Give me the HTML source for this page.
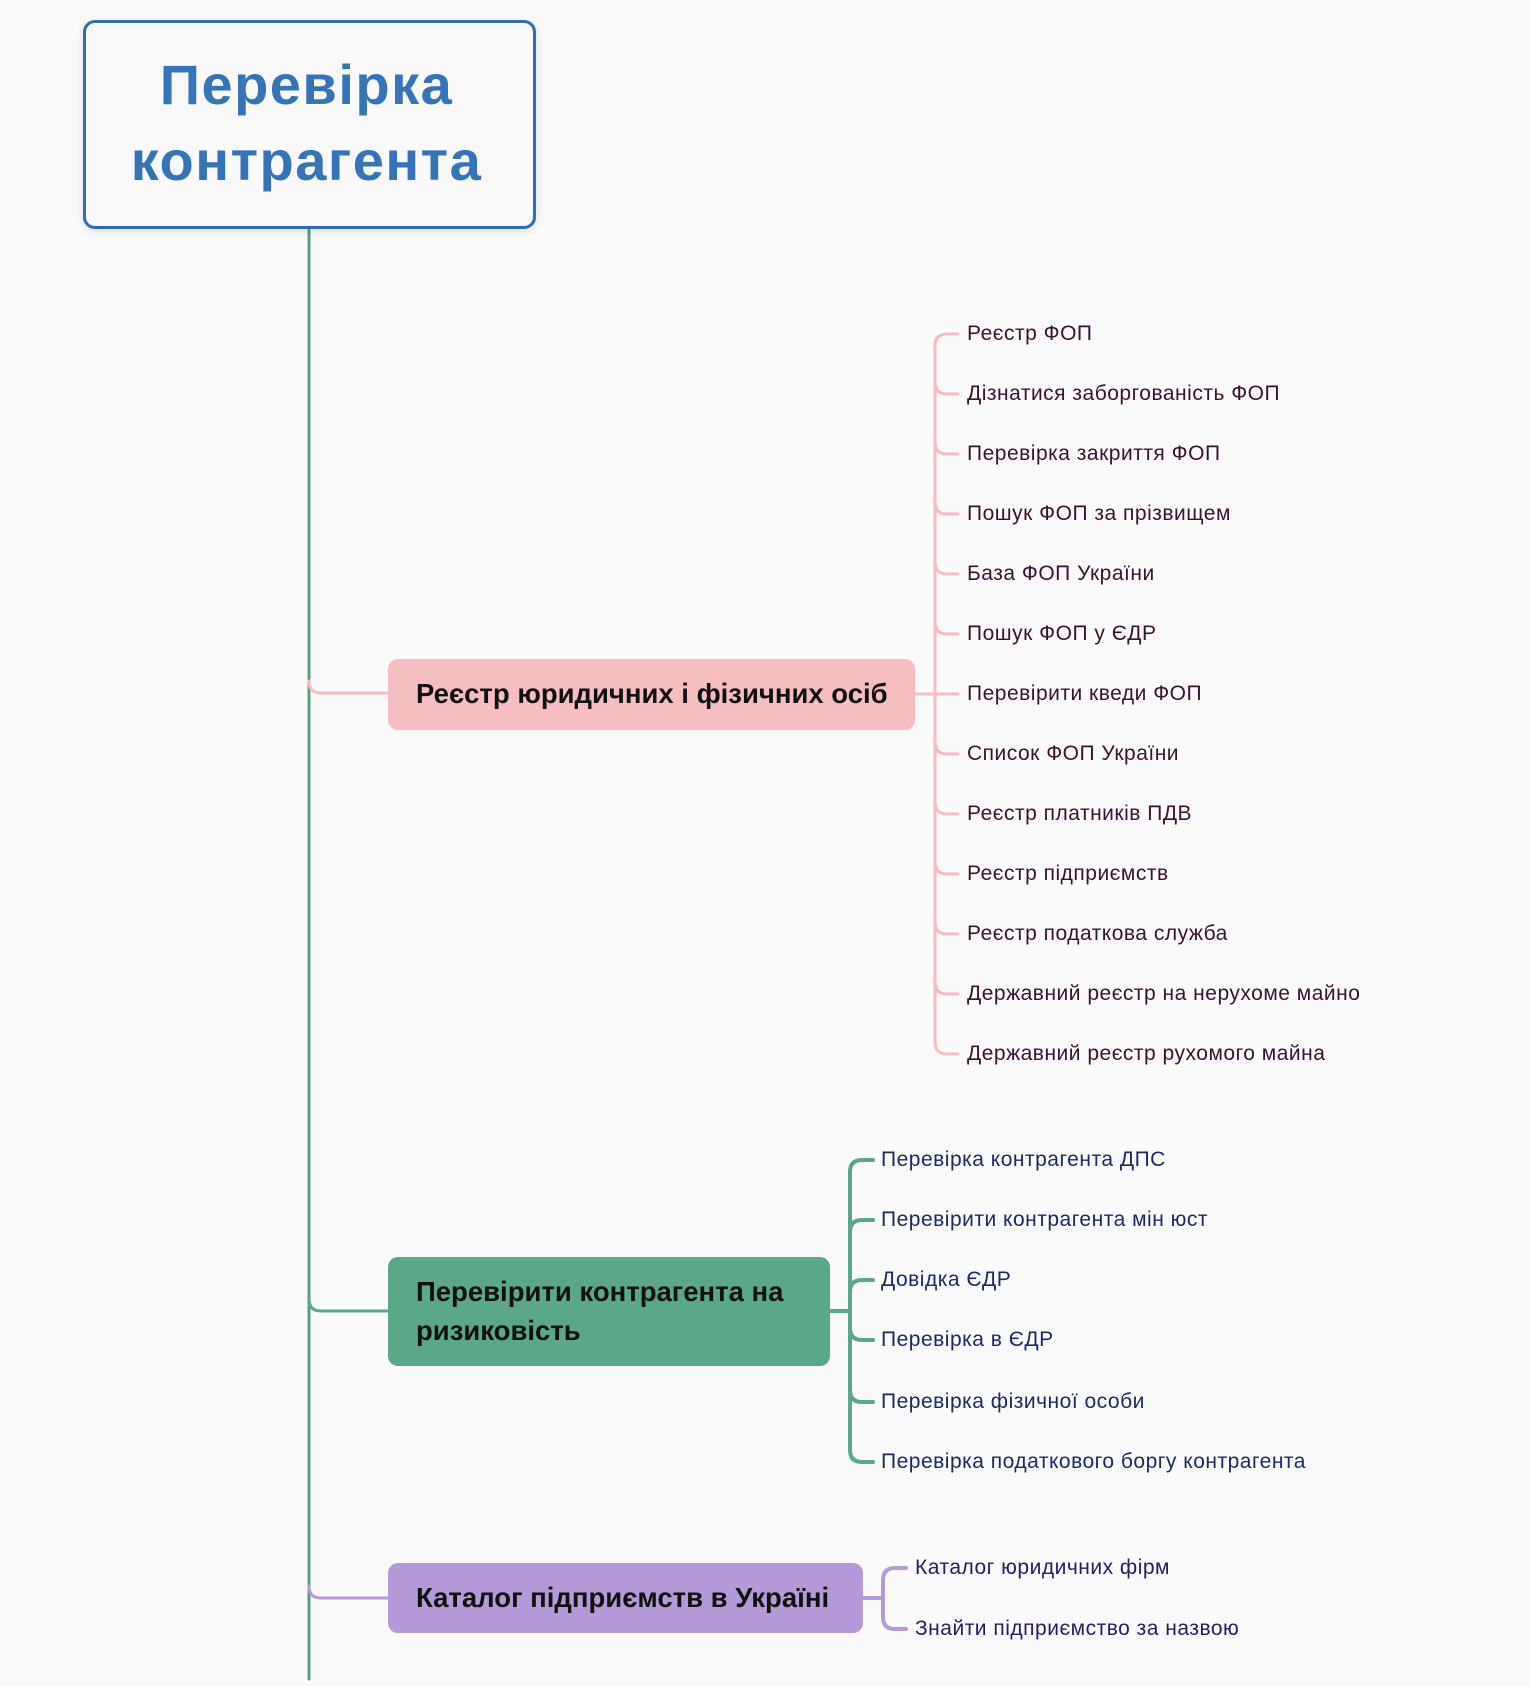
<!DOCTYPE html>
<html><head><meta charset="utf-8"><style>
body{margin:0;width:1530px;height:1686px;background:#fafafa;position:relative;overflow:hidden;font-family:"Liberation Sans",sans-serif}
.a{position:absolute;white-space:nowrap}
.root{left:83px;top:20px;width:447px;height:203px;border:3px solid #2f6db4;border-radius:12px;background:#f9f9fa;box-shadow:0 2px 8px rgba(0,0,0,.12)}
.rt{left:80px;width:453px;text-align:center;color:#3673b8;font-weight:bold;font-size:56px;letter-spacing:1.5px;line-height:60px}
.box{border-radius:10px}
.bt{font-weight:bold;font-size:27.5px;color:#111;line-height:38px}
.p{color:#3a1232;font-size:21px;letter-spacing:0.5px;line-height:24px}
.g{color:#1c2a6a;font-size:21px;letter-spacing:0.5px;line-height:24px}
.v{color:#2a1a60;font-size:21px;letter-spacing:0.5px;line-height:24px}
</style></head><body>
<svg class="a" style="left:0;top:0" width="1530" height="1686" fill="none" stroke-width="3" stroke-linecap="round">
<line x1="309" y1="228" x2="309" y2="1679" stroke="#5a9e80"/>
<path d="M309,681 Q309,693 321,693 H388" stroke="#f7bcc2"/>
<path d="M309,1299 Q309,1311 321,1311 H388" stroke="#5aa887"/>
<path d="M309,1586 Q309,1598 321,1598 H388" stroke="#b59ad9"/>
<g stroke="#f7bcc2">
<line x1="915" y1="694" x2="935" y2="694"/>
<line x1="935" y1="346" x2="935" y2="1042"/>
<path d="M935,346 Q935,334 947,334 H958"/>
<path d="M935,382 Q935,394 947,394 H958"/>
<path d="M935,442 Q935,454 947,454 H958"/>
<path d="M935,502 Q935,514 947,514 H958"/>
<path d="M935,562 Q935,574 947,574 H958"/>
<path d="M935,622 Q935,634 947,634 H958"/>
<path d="M935,694 H958"/>
<path d="M935,742 Q935,754 947,754 H958"/>
<path d="M935,802 Q935,814 947,814 H958"/>
<path d="M935,862 Q935,874 947,874 H958"/>
<path d="M935,922 Q935,934 947,934 H958"/>
<path d="M935,982 Q935,994 947,994 H958"/>
<path d="M935,1042 Q935,1054 947,1054 H958"/>
</g>
<g stroke="#5aa887" stroke-width="4">
<line x1="830" y1="1311" x2="850" y2="1311"/>
<line x1="850" y1="1172" x2="850" y2="1450"/>
<path d="M850,1172 Q850,1160 862,1160 H873"/>
<path d="M850,1232 Q850,1220 862,1220 H873"/>
<path d="M850,1292 Q850,1280 862,1280 H873"/>
<path d="M850,1328 Q850,1340 862,1340 H873"/>
<path d="M850,1390 Q850,1402 862,1402 H873"/>
<path d="M850,1450 Q850,1462 862,1462 H873"/>
</g>
<g stroke="#b59ad9" stroke-width="4">
<line x1="863" y1="1598" x2="883" y2="1598"/>
<path d="M883,1580 Q883,1568 895,1568 H906"/>
<path d="M883,1580 V1617 Q883,1629 895,1629 H906"/>
</g>
</svg>
<div class="a root"></div>
<div class="a rt" style="top:55px">Перевірка</div>
<div class="a rt" style="top:131px">контрагента</div>

<div class="a box" style="left:388px;top:659px;width:527px;height:71px;background:#f7bec2"></div>
<div class="a bt" style="left:416px;top:675px">Реєстр юридичних і фізичних осіб</div>

<div class="a box" style="left:388px;top:1257px;width:442px;height:109px;background:#5aa887"></div>
<div class="a bt" style="left:416px;top:1273px">Перевірити контрагента на</div>
<div class="a bt" style="left:416px;top:1312px">ризиковість</div>

<div class="a box" style="left:388px;top:1563px;width:475px;height:70px;background:#b59ad9"></div>
<div class="a bt" style="left:416px;top:1579px">Каталог підприємств в Україні</div>

<div class="a p" style="left:967px;top:322px">Реєстр ФОП</div>
<div class="a p" style="left:967px;top:382px">Дізнатися заборгованість ФОП</div>
<div class="a p" style="left:967px;top:442px">Перевірка закриття ФОП</div>
<div class="a p" style="left:967px;top:502px">Пошук ФОП за прізвищем</div>
<div class="a p" style="left:967px;top:562px">База ФОП України</div>
<div class="a p" style="left:967px;top:622px">Пошук ФОП у ЄДР</div>
<div class="a p" style="left:967px;top:682px">Перевірити кведи ФОП</div>
<div class="a p" style="left:967px;top:742px">Список ФОП України</div>
<div class="a p" style="left:967px;top:802px">Реєстр платників ПДВ</div>
<div class="a p" style="left:967px;top:862px">Реєстр підприємств</div>
<div class="a p" style="left:967px;top:922px">Реєстр податкова служба</div>
<div class="a p" style="left:967px;top:982px">Державний реєстр на нерухоме майно</div>
<div class="a p" style="left:967px;top:1042px">Державний реєстр рухомого майна</div>

<div class="a g" style="left:881px;top:1148px">Перевірка контрагента ДПС</div>
<div class="a g" style="left:881px;top:1208px">Перевірити контрагента мін юст</div>
<div class="a g" style="left:881px;top:1268px">Довідка ЄДР</div>
<div class="a g" style="left:881px;top:1328px">Перевірка в ЄДР</div>
<div class="a g" style="left:881px;top:1390px">Перевірка фізичної особи</div>
<div class="a g" style="left:881px;top:1450px">Перевірка податкового боргу контрагента</div>

<div class="a v" style="left:915px;top:1556px">Каталог юридичних фірм</div>
<div class="a v" style="left:915px;top:1617px">Знайти підприємство за назвою</div>
</body></html>
